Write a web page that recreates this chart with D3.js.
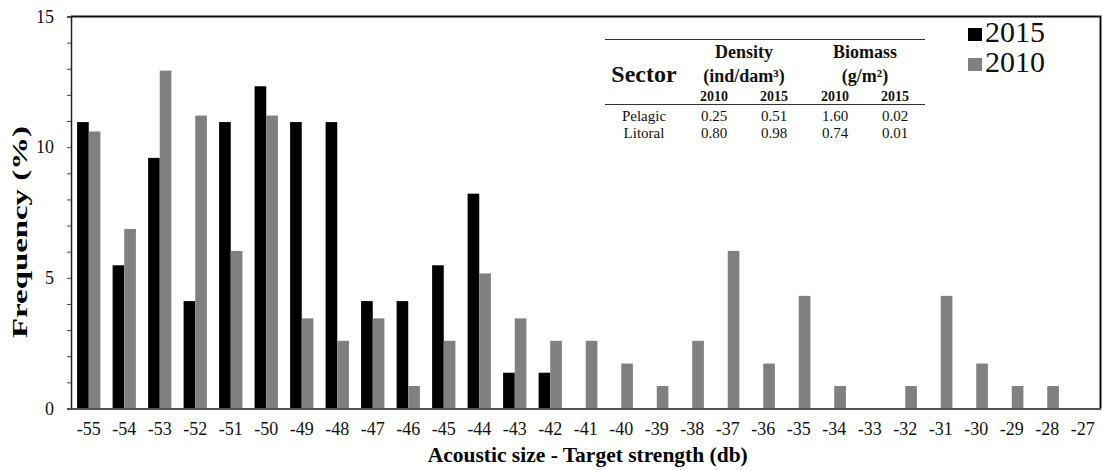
<!DOCTYPE html>
<html>
<head>
<meta charset="utf-8">
<script src="https://cdn.jsdelivr.net/npm/d3@7"></script>
<style>
  html, body { margin: 0; padding: 0; background: #fff; }
  svg { display: block; font-family: "Liberation Serif", "Times New Roman", serif; }
</style>
</head>
<body>
<svg id="chart" width="1102" height="470"></svg>
<script>
// Target strength classes (dB)
const categories = [-55, -54, -53, -52, -51, -50, -49, -48, -47, -46, -45, -44, -43, -42,
  -41, -40, -39, -38, -37, -36, -35, -34, -33, -32, -31, -30, -29, -28, -27];

// Frequency (%) per class
const freq2015 = [10.96, 5.48, 9.59, 4.11, 10.96, 12.33, 10.96, 10.96, 4.11, 4.11, 5.48, 8.22, 1.37, 1.37,
  0, 0, 0, 0, 0, 0, 0, 0, 0, 0, 0, 0, 0, 0, 0];
const freq2010 = [10.6, 6.87, 12.93, 11.21, 6.03, 11.21, 3.45, 2.59, 3.45, 0.86, 2.59, 5.17, 3.45, 2.59,
  2.59, 1.72, 0.86, 2.59, 6.03, 1.72, 4.31, 0.86, 0, 0.86, 4.31, 1.72, 0.86, 0.86, 0];

const seriesNames = ["2015", "2010"];
const seriesColors = ["#000000", "#808080"];
const yTicks = [0, 5, 10, 15];

// Summary table
const tableYears = ["2010", "2015", "2010", "2015"];
const tableRows = [
  { sector: "Pelagic", values: ["0.25", "0.51", "1.60", "0.02"] },
  { sector: "Litoral", values: ["0.80", "0.98", "0.74", "0.01"] }
];

const svg = d3.select("#chart");
const plotLeft = 71, plotRight = 1100.5, plotTop = 16.5, plotBottom = 408.5;

const x = d3.scaleBand()
  .domain(categories)
  .range([plotLeft, plotRight])
  .paddingInner(0.344)
  .paddingOuter(0.172);

const xs = d3.scaleBand().domain(seriesNames).range([0, x.bandwidth()]);

const y = d3.scaleLinear().domain([0, 15]).range([plotBottom, plotTop]);

// Bars
const series = [freq2015, freq2010];
const g = svg.append("g");
series.forEach((vals, si) => {
  g.selectAll(null)
    .data(categories.map((c, i) => ({ c, v: vals[i] })).filter(d => d.v > 0))
    .join("rect")
    .attr("x", d => x(d.c) + xs(seriesNames[si]))
    .attr("width", xs.bandwidth())
    .attr("y", d => y(d.v))
    .attr("height", d => y(0) - y(d.v))
    .attr("fill", seriesColors[si]);
});

// Frame: top and right border
svg.append("path")
  .attr("d", `M${plotLeft},${y(15)}H${plotRight}V${plotBottom}`)
  .attr("fill", "none")
  .attr("stroke", "#111")
  .attr("stroke-width", 2);

// Y axis with unit minor ticks
const yAxis = d3.axisLeft(y).tickValues(d3.range(0, 16)).tickSize(4)
  .tickFormat(d => yTicks.includes(d) ? d : "");
const ya = svg.append("g").attr("transform", `translate(${plotLeft},0)`).call(yAxis);
ya.attr("font-family", null);
ya.select(".domain").attr("stroke", "#222").attr("stroke-width", 1.5);
ya.selectAll(".tick line").attr("stroke", "#444");
ya.selectAll(".tick text")
  .attr("font-size", 18)
  .attr("fill", "#111")
  .attr("x", -17);

// X axis
const xAxis = d3.axisBottom(x).tickSize(0).tickPadding(14);
const xa = svg.append("g").attr("transform", `translate(0,${plotBottom})`).call(xAxis);
xa.attr("font-family", null);
xa.select(".domain").attr("stroke", "#555").attr("stroke-width", 2);
xa.selectAll(".tick text")
  .attr("font-size", 18)
  .attr("fill", "#111");

// Axis titles
svg.append("text")
  .attr("x", (plotLeft + plotRight) / 2 + 2)
  .attr("y", 462)
  .attr("text-anchor", "middle")
  .attr("font-size", 21)
  .attr("font-weight", "bold")
  .attr("textLength", 320)
  .attr("lengthAdjust", "spacingAndGlyphs")
  .text("Acoustic size - Target strength (db)");

svg.append("text")
  .attr("transform", "translate(27,232) rotate(-90)")
  .attr("text-anchor", "middle")
  .attr("font-size", 21)
  .attr("font-weight", "bold")
  .attr("textLength", 212)
  .attr("lengthAdjust", "spacingAndGlyphs")
  .text("Frequency (%)");

// Legend
const legend = svg.append("g");
seriesNames.forEach((name, i) => {
  const by = 42 + i * 30;
  legend.append("rect")
    .attr("x", 968).attr("y", by - 14).attr("width", 14).attr("height", 13)
    .attr("fill", seriesColors[i]);
  legend.append("text")
    .attr("x", 985).attr("y", by)
    .attr("font-size", 30)
    .attr("fill", "#111")
    .text(name);
});

// Summary table
const tbl = svg.append("g").attr("fill", "#111");
const colX = [714, 774, 835, 895];
tbl.append("line").attr("x1", 605).attr("x2", 925).attr("y1", 39.5).attr("y2", 39.5)
  .attr("stroke", "#333").attr("stroke-width", 1.2);
tbl.append("line").attr("x1", 605).attr("x2", 925).attr("y1", 104.5).attr("y2", 104.5)
  .attr("stroke", "#333").attr("stroke-width", 1.2);
tbl.append("text").attr("x", 644).attr("y", 82).attr("text-anchor", "middle")
  .attr("font-size", 24).attr("font-weight", "bold").text("Sector");
tbl.append("text").attr("x", 744).attr("y", 58).attr("text-anchor", "middle")
  .attr("font-size", 18).attr("font-weight", "bold").text("Density");
tbl.append("text").attr("x", 744).attr("y", 82).attr("text-anchor", "middle")
  .attr("font-size", 18).attr("font-weight", "bold").text("(ind/dam³)");
tbl.append("text").attr("x", 865).attr("y", 58).attr("text-anchor", "middle")
  .attr("font-size", 18).attr("font-weight", "bold").text("Biomass");
tbl.append("text").attr("x", 865).attr("y", 82).attr("text-anchor", "middle")
  .attr("font-size", 18).attr("font-weight", "bold").text("(g/m²)");
tableYears.forEach((yr, i) => {
  tbl.append("text").attr("x", colX[i]).attr("y", 101).attr("text-anchor", "middle")
    .attr("font-size", 14).attr("font-weight", "bold").text(yr);
});
tableRows.forEach((row, r) => {
  const by = 121 + r * 17;
  tbl.append("text").attr("x", 644).attr("y", by).attr("text-anchor", "middle")
    .attr("font-size", 15).text(row.sector);
  row.values.forEach((v, i) => {
    tbl.append("text").attr("x", colX[i]).attr("y", by).attr("text-anchor", "middle")
      .attr("font-size", 15).text(v);
  });
});
</script>
</body>
</html>
